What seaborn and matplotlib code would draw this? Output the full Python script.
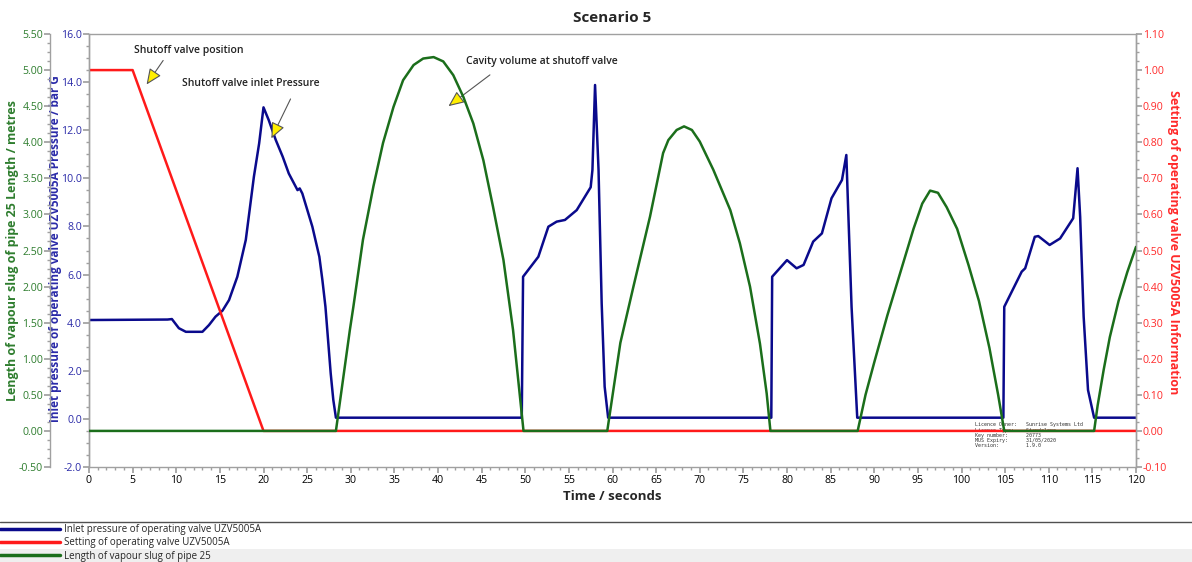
import matplotlib
matplotlib.use("Agg")
import matplotlib.pyplot as plt
from matplotlib.ticker import MultipleLocator, FormatStrFormatter
from matplotlib.patches import Rectangle
from matplotlib.lines import Line2D
import seaborn as sns
import pandas as pd

# ---------------- data ----------------
t_pressure = [0, 9.0, 9.5, 10.3, 11.1, 13.0, 13.75, 14.5, 15.3, 16.05, 17.0, 17.97, 18.9, 19.5, 20.0,
              20.6, 21.4, 22.2, 22.9, 23.9, 24.15, 24.45, 25.6, 26.4, 26.75, 27.1, 27.4, 27.7, 28.0, 28.3,
              49.6, 49.75, 51.5, 52.65, 53.6, 54.55, 55.9, 57.5, 57.7, 58.0, 58.4, 58.76, 59.1, 59.5,
              78.2, 78.3, 80.0, 81.1, 81.9, 83.0, 84.0, 85.1, 86.3, 86.8, 87.0, 87.4, 88.05,
              104.8, 104.9, 106.9, 107.3, 108.4, 108.8, 110.1, 111.3, 112.8, 113.3, 113.6, 114.0, 114.5, 115.2,
              120]
pressure = [4.11, 4.13, 4.15, 3.77, 3.62, 3.62, 3.9, 4.25, 4.5, 4.94, 5.91, 7.44, 10.07, 11.45, 12.95,
            12.42, 11.6, 10.9, 10.2, 9.51, 9.58, 9.37, 7.99, 6.74, 5.77, 4.66, 3.28, 1.9, 0.79, 0.05,
            0.05, 5.91, 6.74, 7.99, 8.2, 8.27, 8.68, 9.63, 10.35, 13.88, 10.35, 4.8, 1.34, 0.05,
            0.05, 5.91, 6.6, 6.26, 6.4, 7.37, 7.71, 9.17, 9.93, 10.97, 8.82, 4.66, 0.05,
            0.05, 4.66, 6.12, 6.26, 7.57, 7.6, 7.23, 7.5, 8.34, 10.42, 8.4, 4.25, 1.2, 0.05,
            0.05]

t_setting = [0, 5, 20, 120]
setting = [1.0, 1.0, 0.0, 0.0]

t_length = [0, 28.3, 29.9, 30.3, 31.4, 32.6, 33.7, 34.9, 36.0, 37.2, 38.3, 39.5, 40.6, 41.75,
            42.9, 44.05, 45.2, 46.3, 47.5, 48.6, 49.8,
            59.4, 60.9, 62.4, 64.3, 65.8, 66.4, 67.35, 68.2, 69.1, 70.0, 71.55, 73.5, 74.6, 75.76,
            76.9, 77.67, 78.1,
            88.1, 89.0, 90.0, 91.5, 93.0, 94.5, 95.5, 96.4, 97.3, 98.3, 99.5, 100.8, 102.0, 103.2,
            104.2, 104.9,
            115.2, 115.6, 116.3, 117, 118, 119, 120]
length = [0, 0, 1.4, 1.72, 2.65, 3.39, 3.99, 4.49, 4.86, 5.07, 5.16, 5.18, 5.12, 4.93,
          4.63, 4.26, 3.75, 3.11, 2.37, 1.40, 0,
          0, 1.22, 2.0, 2.97, 3.85, 4.03, 4.17, 4.22, 4.17, 4.01, 3.62, 3.06, 2.60, 2.0,
          1.21, 0.52, 0,
          0, 0.5, 0.95, 1.6, 2.2, 2.8, 3.15, 3.33, 3.3, 3.1, 2.8, 2.3, 1.8, 1.15,
          0.5, 0,
          0, 0.35, 0.85, 1.3, 1.8, 2.2, 2.55]

labels = ["Inlet pressure of operating valve UZV5005A",
          "Setting of operating valve UZV5005A",
          "Length of vapour slug of pipe 25"]

BLUE = "#0a0a8c"
RED = "#ff1a1a"
GREEN = "#1b6e1b"
BLUE_T = "#2a2aa8"
GREEN_T = "#2e7d2e"
RED_T = "#ff2a2a"
SPINE = "#a0a0a0"

sns.set_theme(style="white")
plt.rcParams["font.family"] = ["Open Sans", "DejaVu Sans"]

fig = plt.figure(figsize=(11.92, 5.62), dpi=100)
ax = fig.add_axes([89/1192, 1-467/562, (1136-89)/1192, (467-34)/562])
ax_set = ax.twinx()
ax_len = ax.twinx()

df_p = pd.DataFrame({"t": t_pressure, "v": pressure})
df_s = pd.DataFrame({"t": t_setting, "v": setting})
df_l = pd.DataFrame({"t": t_length, "v": length})

sns.lineplot(data=df_p, x="t", y="v", ax=ax, color=BLUE, lw=1.8, sort=False, estimator=None)
sns.lineplot(data=df_s, x="t", y="v", ax=ax_set, color=RED, lw=1.8, sort=False, estimator=None)
sns.lineplot(data=df_l, x="t", y="v", ax=ax_len, color=GREEN, lw=1.8, sort=False, estimator=None)

ax.set_xlim(0, 120)
ax.set_ylim(-2.0, 16.0)
ax_set.set_ylim(-0.10, 1.10)
ax_len.set_ylim(-0.50, 5.50)

# green axis on the far left
ax_len.spines["left"].set_position(("outward", 28))
ax_len.spines["left"].set_visible(True)
ax_len.yaxis.set_label_position("left")
ax_len.yaxis.set_ticks_position("left")
ax_len.spines["right"].set_visible(False)

for a in (ax, ax_set, ax_len):
    for s in a.spines.values():
        s.set_color(SPINE)
        s.set_linewidth(1.0)
ax_len.spines["top"].set_visible(False)
ax_set.spines["top"].set_visible(False)
ax_len.spines["bottom"].set_visible(False)
ax_set.spines["bottom"].set_visible(False)

ax.xaxis.set_major_locator(MultipleLocator(5))
ax.xaxis.set_minor_locator(MultipleLocator(1))
ax.yaxis.set_major_locator(MultipleLocator(2))
ax.yaxis.set_minor_locator(MultipleLocator(0.5))
ax.yaxis.set_major_formatter(FormatStrFormatter("%.1f"))
ax_set.yaxis.set_major_locator(MultipleLocator(0.1))
ax_set.yaxis.set_minor_locator(MultipleLocator(0.025))
ax_set.yaxis.set_major_formatter(FormatStrFormatter("%.2f"))
ax_len.yaxis.set_major_locator(MultipleLocator(0.5))
ax_len.yaxis.set_minor_locator(MultipleLocator(0.125))
ax_len.yaxis.set_major_formatter(FormatStrFormatter("%.2f"))

TS = 7.6
ax.tick_params(axis="x", which="both", bottom=True, direction="out", colors="black",
               labelsize=TS, pad=2, color=SPINE)
ax.tick_params(axis="x", which="major", length=4)
ax.tick_params(axis="x", which="minor", length=2)
ax.tick_params(axis="y", which="both", left=True, direction="out", labelcolor=BLUE_T,
               labelsize=TS, pad=1, color=SPINE)
ax.tick_params(axis="y", which="major", length=4)
ax.tick_params(axis="y", which="minor", length=2)
ax_set.tick_params(axis="y", which="both", right=True, direction="out", labelcolor=RED_T,
                   labelsize=TS, pad=1, color=SPINE)
ax_set.tick_params(axis="y", which="major", length=4)
ax_set.tick_params(axis="y", which="minor", length=2)
ax_len.tick_params(axis="y", which="both", left=True, direction="out", labelcolor=GREEN_T,
                   labelsize=TS, pad=1, color=SPINE)
ax_len.tick_params(axis="y", which="major", length=4)
ax_len.tick_params(axis="y", which="minor", length=2)

ax.set_xlabel("Time / seconds", fontsize=9.5, fontweight="bold", labelpad=3)
ax.set_ylabel("Inlet pressure of operating valve UZV5005A Pressure / bar G",
              fontsize=8.5, fontweight="bold", color=BLUE_T)
ax.yaxis.set_label_coords(-0.0255, 0.505)
ax_set.set_ylabel("Setting of operating valve UZV5005A Information",
                  fontsize=9, fontweight="bold", color=RED_T, rotation=270)
ax_set.yaxis.set_label_coords(1.042, 0.52)
ax_len.set_ylabel("Length of vapour slug of pipe 25 Length / metres",
                  fontsize=9, fontweight="bold", color=GREEN_T)
ax_len.yaxis.set_label_coords(-0.0665, 0.5)
ax.set_title("Scenario 5", fontsize=11, fontweight="bold", pad=9)

# annotations (pressure-axis coordinates)
arrow = dict(arrowstyle="-|>,head_length=0.8,head_width=0.35", facecolor="#ffee00",
             edgecolor="#555555", lw=0.8, shrinkA=0, shrinkB=0)
ann_fs = 7.5
ax.text(11.45, 15.33, "Shutoff valve position", fontsize=ann_fs, fontweight="semibold",
        ha="center", va="center", color="#222222")
ax.annotate("", xy=(6.6, 13.9), xytext=(8.5, 14.9), arrowprops=arrow)
ax.text(18.57, 13.95, "Shutoff valve inlet Pressure", fontsize=ann_fs, fontweight="semibold",
        ha="center", va="center", color="#222222")
ax.annotate("", xy=(20.9, 11.66), xytext=(23.1, 13.3), arrowprops=arrow)
ax.text(51.9, 14.85, "Cavity volume at shutoff valve", fontsize=ann_fs, fontweight="semibold",
        ha="center", va="center", color="#222222")
ax.annotate("", xy=(41.2, 13.0), xytext=(45.95, 14.3), arrowprops=arrow)

# licence watermark
lic = ("Licence Owner:   Sunrise Systems Ltd\n"
       "Licence Type:    Standalone\n"
       "Key number:      20773\n"
       "MUS Expiry:      31/05/2020\n"
       "Version:         1.9.0")
ax.text(101.5, -0.15, lic, fontsize=3.6, family="DejaVu Sans Mono", va="top", ha="left",
        color="#333333", linespacing=1.05)

# legend strip at the bottom
fig.add_artist(Line2D([0, 1], [1-522/562, 1-522/562], transform=fig.transFigure,
                      color="#505050", lw=1.0))
fig.add_artist(Rectangle((0, 0), 1, 13/562, transform=fig.transFigure,
                         facecolor="#efefef", edgecolor="none", zorder=-1))
handles = [Line2D([], [], color=BLUE, lw=2.5),
           Line2D([], [], color=RED, lw=2.5),
           Line2D([], [], color=GREEN, lw=2.5)]
fig.legend(handles, labels, loc="upper left", bbox_to_anchor=(0.0, 1-524/562),
           frameon=False, fontsize=7, handlelength=6.2, handletextpad=0.35,
           labelspacing=0.25, borderpad=0, borderaxespad=0)

fig.savefig("out.png", dpi=100)
